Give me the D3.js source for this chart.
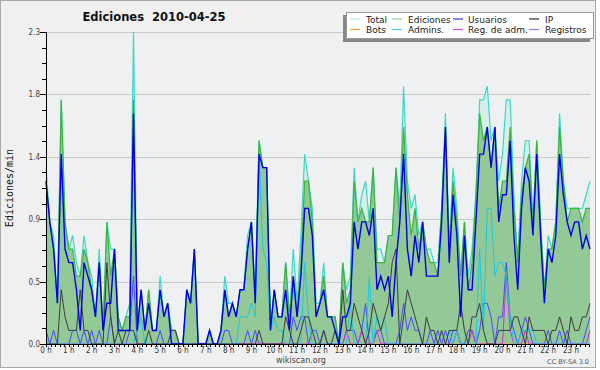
<!DOCTYPE html>
<html>
<head>
<meta charset="utf-8">
<script src="https://cdn.jsdelivr.net/npm/d3@7"></script>
<style>
  body { margin: 0; background: #fff; }
  svg { display: block; }
</style>
</head>
<body>
<div id="chart"></div>
<script>
// edits per minute, 10-minute bins (144 per day)
const total = [
  1.3,0.9,0.8,0.3,1.8,0.9,0.7,0.8,0.6,0.5, 0.8,0.6,0.5,0.2,0.7,0.1,0.9,0.7,0.7,0.2,
  0.1,0.2,0.3,2.3,0.1,0.4,0.1,0.4,0.1,0.1, 0.5,0.2,0.3,0.1,0.1,0,0,0.4,0.3,0.7,
  0,0,0,0.1,0,0,0.1,0.5,0.3,0.3, 0.2,0.4,0.4,0.8,0.9,0.4,1.5,1.3,1.3,0.1,
  0.4,0.2,0.2,0.6,0.2,0.7,0.3,0.8,1.4,1.2, 1.0,0.3,0.3,0.6,0.2,0.2,0.2,0,0.6,0.4,
  0.5,1.3,0.9,1.1,1.2,0.9,1.3,0.7,0.7,0.6, 0.8,0.8,1.3,1.0,1.9,1.2,1.0,1.1,0.8,0.9,
  0.7,0.7,0.6,0.6,1.0,1.7,0.7,1.3,1.0,0.5, 0.9,0.5,0.7,1.1,1.8,1.8,1.9,1.5,1.6,1.2,
  1.4,1.8,1.8,1.1,0.6,1.2,1.5,1.5,0.9,1.5, 0.9,0.4,0.8,0.7,0.9,1.7,1.2,1.0,1.0,1.0,
  1.0,1.0,1.1,1.2
];
const ediciones = [
  1.2,0.9,0.7,0.3,1.8,0.9,0.7,0.7,0.5,0.5, 0.7,0.6,0.4,0.2,0.6,0.1,0.9,0.5,0.7,0.2,
  0.1,0.2,0.2,1.8,0.1,0.4,0.1,0.4,0.1,0.1, 0.4,0.2,0.3,0.1,0.1,0,0,0.4,0.3,0.7,
  0,0,0,0.1,0,0,0.1,0.4,0.2,0.3, 0.2,0.4,0.4,0.7,0.9,0.3,1.5,1.3,1.3,0.1,
  0.4,0.2,0.2,0.6,0.2,0.5,0.2,0.6,1.2,1.2, 0.9,0.2,0.3,0.5,0.2,0.2,0.2,0,0.6,0.3,
  0.4,1.2,0.9,1.0,0.9,0.9,1.3,0.6,0.6,0.6, 0.8,0.8,1.3,0.9,1.6,1.1,0.8,1.0,0.7,0.9,
  0.7,0.6,0.6,0.5,1.0,1.6,0.7,1.2,0.9,0.5, 0.9,0.4,0.6,1.1,1.7,1.5,1.6,1.3,1.6,1.0,
  1.2,1.2,1.6,1.0,0.6,1.1,1.3,1.4,0.9,1.5, 0.9,0.4,0.7,0.7,0.9,1.6,1.2,0.9,1.0,1.0,
  1.0,0.9,1.0,1.0
];
const usuarios = [
  1.2,0.9,0.7,0.3,1.4,0.7,0.6,0.6,0.4,0.1, 0.6,0.5,0.4,0.2,0.6,0.1,0.3,0.3,0.7,0.1,
  0.1,0.1,0.1,1.7,0.1,0.4,0.1,0.3,0.1,0.1, 0.4,0.2,0.3,0,0,0,0,0.4,0.3,0.7,
  0,0,0,0.1,0,0,0.1,0.4,0.2,0.3, 0.2,0.4,0.4,0.7,0.9,0.3,1.4,1.3,1.3,0.1,
  0.4,0.2,0.2,0.4,0.1,0.5,0.2,0.5,1.0,1.0, 0.8,0.2,0.3,0.4,0.2,0.2,0.1,0,0.2,0.2,
  0.3,0.9,0.7,0.9,0.9,0.8,1.0,0.4,0.5,0.4, 0.5,0.2,0.6,0.9,1.4,0.7,0.5,0.8,0.6,0.9,
  0.5,0.5,0.5,0.5,0.9,1.6,0.6,1.1,0.8,0.2, 0.8,0.4,0.4,0.9,1.4,1.4,1.6,1.3,1.6,0.9,
  1.1,1.1,1.5,0.8,0.4,1.0,1.3,1.2,0.8,1.4, 0.8,0.3,0.7,0.6,0.8,1.4,1.1,0.9,0.8,0.9,
  0.9,0.7,0.8,0.7
];
const ip = [
  0,0,0,0,0.4,0.2,0.1,0.1,0.1,0.4, 0.1,0.1,0,0,0,0,0.6,0.2,0,0.1,
  0,0.1,0.1,0.1,0,0,0,0.1,0,0, 0,0,0,0.1,0.1,0,0,0,0,0,
  0,0,0,0,0,0,0,0,0,0, 0,0,0,0,0,0,0.1,0,0,0,
  0,0,0,0.2,0.1,0,0,0.1,0.2,0.2, 0.1,0,0,0.1,0,0,0.1,0,0.4,0.1,
  0.1,0.3,0.2,0.1,0,0.1,0.3,0.2,0.1,0.2, 0.3,0.6,0.7,0,0.2,0.4,0.3,0.2,0.1,0,
  0.2,0.1,0.1,0,0.1,0,0.1,0.1,0.1,0.3, 0.1,0,0.2,0.2,0.3,0.1,0,0,0,0.1,
  0.1,0.1,0.1,0.2,0.2,0.1,0,0.2,0.1,0.1, 0.1,0.1,0,0.1,0.1,0.2,0.1,0,0.2,0.1,
  0.1,0.2,0.2,0.3
];
const bots = new Array(144).fill(0);
const admins = [
  0,0,0,0,0,0,0,0,0,0, 0,0,0,0,0,0,0,0,0,0,
  0,0,0,0,0.1,0.2,0,0,0,0, 0,0,0,0,0,0,0,0,0,0,
  0,0,0,0,0,0,0,0,0,0, 0,0.2,0.2,0.2,0.3,0.2,1.4,0.7,0.6,0.1,
  0.2,0.1,0.1,0,0,0,0,0,0.6,0.2, 0,0,0,0,0,0,0,0,0,0,
  0.3,0,0,0,0,0.5,0,0.2,0.1,0.2, 0,0,0,0,0,0,0,0,0,0,
  0,0,0,0,0,0,0.1,0,0.1,0, 0,0,0,0,0.7,0.1,1.0,1.0,0.5,0.6,
  0.6,0.5,0.2,0,0,0.1,0.1,0.1,0.1,0, 0,0,0,0,0,0,0,0,0,0,
  0,0,0,0
];
const regAdm = [
  0,0,0,0,0,0,0,0,0,0, 0,0,0,0,0,0,0,0,0,0,
  0,0,0,0,0,0,0,0,0,0, 0,0,0,0,0,0,0,0,0,0,
  0,0,0,0,0,0,0,0,0,0, 0,0,0,0,0,0,0,0,0,0,
  0,0,0,0,0,0,0,0,0,0, 0,0,0,0,0,0,0,0,0,0.1,
  0,0,0,0.1,0,0,0,0.1,0,0, 0,0,0,0,0,0,0,0,0,0,
  0,0,0,0,0,0,0,0,0.1,0, 0,0,0.1,0,0,0,0,0,0,0,
  0,0.5,0.1,0,0,0,0.1,0,0,0, 0,0,0,0,0,0,0,0,0,0,
  0,0,0,0.1
];
const registros = [
  0.1,0,0.1,0,0,0,0,0.1,0.1,0, 0.1,0,0.1,0,0.1,0,0,0.2,0,0,
  0,0,0.1,0.5,0,0,0,0,0,0, 0.1,0,0,0,0,0,0,0,0,0,
  0,0,0,0,0,0,0,0.1,0.1,0, 0,0,0,0.1,0,0.1,0,0,0,0,
  0,0,0,0,0,0.2,0.1,0.2,0.2,0, 0.1,0.1,0,0.1,0,0,0,0,0,0.1,
  0.1,0.1,0,0.1,0.3,0,0,0.1,0.1,0, 0,0,0,0.1,0.3,0.1,0.2,0.1,0.1,0,
  0,0.1,0,0.1,0,0.1,0,0.1,0.1,0, 0,0.1,0.1,0,0.1,0.3,0.3,0.2,0,0.2,
  0.2,0.6,0.2,0.1,0,0.1,0.2,0.1,0,0, 0,0,0.1,0,0,0.1,0,0.1,0,0,
  0,0,0.1,0.2
];

const hourTicks = [0,1,2,3,4,5,6,7,8,9,10,11,12,13,14,15,16,17,18,19,20,21,22,23];
const yTicks = [0, 0.46, 0.92, 1.38, 1.84, 2.3];
const legendItems = [
  ["Total", "#b4eae2"], ["Ediciones", "#8fd48f"], ["Usuarios", "#3535e0"], ["IP", "#333"],
  ["Bots", "#ffa030"], ["Admins.", "#45cfe3"], ["Reg. de adm.", "#d545e0"], ["Registros", "#7c7cf2"]
];

const width = 600;
const height = 370;
const plotLeft = 46, plotRight = 590, plotTop = 32, plotBottom = 344;

const svg = d3
  .select("#chart")
  .append("svg")
  .attr("width", width)
  .attr("height", height);

svg.append("rect")
  .attr("x", 0.5).attr("y", 0.5)
  .attr("width", 595).attr("height", 367)
  .attr("fill", "#f0f0f0")
  .attr("stroke", "#a8a8a8");

const x = d3.scaleLinear().domain([0, 143]).range([plotLeft, plotRight]);
const y = d3.scaleLinear().domain([0, 2.3]).range([plotBottom, plotTop]);

svg.append("rect")
  .attr("x", plotLeft).attr("y", plotTop)
  .attr("width", plotRight - plotLeft).attr("height", plotBottom - plotTop)
  .attr("fill", "#eef0f2");

// grid
svg.append("g")
  .selectAll("line")
  .data(yTicks.slice(1))
  .join("line")
  .attr("x1", plotLeft).attr("x2", plotRight)
  .attr("y1", (d) => Math.round(y(d)) + 0.5)
  .attr("y2", (d) => Math.round(y(d)) + 0.5)
  .attr("stroke", "#c9c9c9");

const idx = d3.range(144);
const area = (vals) => d3.area().x((i) => x(i)).y0(y(0)).y1((i) => y(vals[i]));
const line = (vals) => d3.line().x((i) => x(i)).y((i) => y(vals[i]));

svg.append("path").attr("d", area(total)(idx)).attr("fill", "#d6efe9");
svg.append("path").attr("d", area(ediciones)(idx)).attr("fill", "#93c996");

const lines = [
  [total, "#3dd8c8", 1.2],
  [ediciones, "#3cb43c", 1.2],
  [bots, "#ffa030", 1],
  [registros, "#4a4aff", 1],
  [regAdm, "#d030d8", 1],
  [admins, "#1cc8e0", 1],
  [ip, "#3c3c3c", 1],
  [usuarios, "#0000e8", 1.4],
];
lines.forEach(([vals, color, w]) => {
  svg.append("path")
    .attr("d", line(vals)(idx))
    .attr("fill", "none")
    .attr("stroke", color)
    .attr("stroke-width", w)
    .attr("stroke-linejoin", "miter");
});

// axes
const axis = svg.append("g").attr("stroke", "#000").attr("shape-rendering", "crispEdges");
axis.append("line").attr("x1", plotLeft).attr("x2", plotLeft).attr("y1", plotTop).attr("y2", plotBottom);
axis.append("line").attr("x1", plotLeft).attr("x2", plotRight).attr("y1", plotBottom).attr("y2", plotBottom);

const yMinor = d3.range(0, 21).map((k) => (k * 2.3) / 20);
axis.selectAll(".ym")
  .data(yMinor)
  .join("line")
  .attr("x1", (d, k) => (k % 4 === 0 ? plotLeft - 6 : plotLeft - 4))
  .attr("x2", plotLeft)
  .attr("y1", (d) => Math.round(y(d)))
  .attr("y2", (d) => Math.round(y(d)));

const xMinor = d3.range(0, 24 * 5 + 1).map((k) => (k * 6) / 5);
axis.selectAll(".xm")
  .data(xMinor.filter((d) => d <= 143.5))
  .join("line")
  .attr("x1", (d) => Math.round(x(d)))
  .attr("x2", (d) => Math.round(x(d)))
  .attr("y1", plotBottom)
  .attr("y2", plotBottom + 3);

svg.append("g")
  .selectAll("text")
  .data(yTicks)
  .join("text")
  .attr("x", 40)
  .attr("y", (d) => y(d) + 3)
  .attr("text-anchor", "end")
  .attr("font-family", "DejaVu Sans Condensed, DejaVu Sans")
  .attr("font-size", 8)
  .attr("fill", "#444")
  .text((d) => d3.format(".1f")(d));

svg.append("g")
  .selectAll("text")
  .data(hourTicks)
  .join("text")
  .attr("x", (h) => x(h * 6))
  .attr("y", 353)
  .attr("text-anchor", "middle")
  .attr("font-family", "DejaVu Sans Condensed, DejaVu Sans")
  .attr("font-size", 8)
  .attr("fill", "#333")
  .text((h) => `${h} h`);

// titles
svg.append("text")
  .attr("x", 154).attr("y", 21)
  .attr("text-anchor", "middle")
  .attr("font-family", "DejaVu Sans")
  .attr("font-weight", "bold")
  .attr("font-size", 11.5)
  .attr("fill", "#111")
  .attr("xml:space", "preserve")
  .text("Ediciones  2010-04-25");

svg.append("text")
  .attr("transform", "translate(13,188) rotate(-90)")
  .attr("text-anchor", "middle")
  .attr("font-family", "DejaVu Sans Mono")
  .attr("font-size", 10)
  .attr("fill", "#111")
  .text("Ediciones/min");

svg.append("text")
  .attr("x", 301).attr("y", 363)
  .attr("text-anchor", "middle")
  .attr("font-family", "DejaVu Sans")
  .attr("font-size", 8)
  .attr("fill", "#444")
  .text("wikiscan.org");

svg.append("text")
  .attr("x", 589).attr("y", 364)
  .attr("text-anchor", "end")
  .attr("font-family", "DejaVu Sans")
  .attr("font-size", 6.5)
  .attr("fill", "#555")
  .text("CC BY-SA 3.0");

// legend
const lg = svg.append("g");
lg.append("rect").attr("x", 343).attr("y", 15).attr("width", 247).attr("height", 27).attr("fill", "#888");
lg.append("rect").attr("x", 346.5).attr("y", 12.5).attr("width", 247).attr("height", 26)
  .attr("fill", "#fff").attr("stroke", "#999");
const colX = [[350, 366], [392, 408], [453, 468], [529, 545]];
legendItems.forEach(([name, color], k) => {
  const [sx, tx] = colX[k % 4];
  const ly = k < 4 ? 19 : 29.5;
  lg.append("line")
    .attr("x1", sx).attr("x2", sx + 10)
    .attr("y1", ly).attr("y2", ly)
    .attr("stroke", color).attr("stroke-width", 1.2);
  lg.append("text")
    .attr("x", tx).attr("y", ly + 3.5)
    .attr("font-family", "DejaVu Sans")
    .attr("font-size", 9)
    .attr("fill", "#222")
    .text(name);
});
</script>
</body>
</html>
